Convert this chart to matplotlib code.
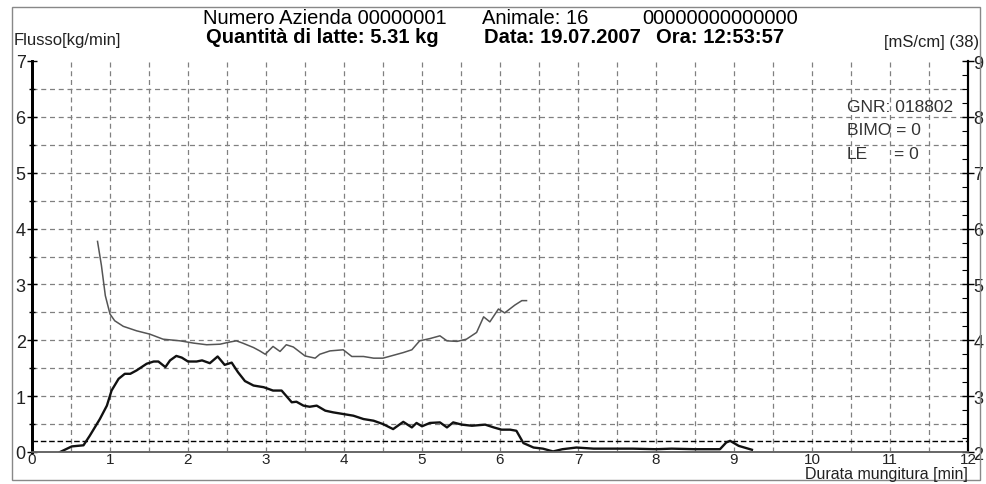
import matplotlib
matplotlib.use("Agg")
import matplotlib.pyplot as plt
from matplotlib.patches import Rectangle
import numpy as np

plt.rcParams['font.family'] = ['Liberation Sans', 'DejaVu Sans']

# Flow [kg/min] vs time [min]
flow_t = [0.36, 0.51, 0.66, 0.74, 0.87, 0.96, 1.02, 1.11, 1.19, 1.26, 1.34, 1.47, 1.56, 1.62,
          1.71, 1.77, 1.85, 1.92, 2.0, 2.11, 2.18, 2.28, 2.38, 2.47, 2.56, 2.64, 2.73, 2.84,
          2.97, 3.09, 3.2, 3.33, 3.39, 3.48, 3.56, 3.65, 3.76, 3.86, 3.99, 4.12, 4.25, 4.38,
          4.5, 4.63, 4.76, 4.87, 4.93, 5.0, 5.1, 5.23, 5.32, 5.4, 5.51, 5.64, 5.81, 5.92,
          6.02, 6.13, 6.21, 6.3, 6.43, 6.55, 6.68, 6.8, 6.98, 7.2, 7.45, 7.7, 8.0, 8.2, 8.5,
          8.82, 8.9, 8.95, 9.06, 9.23]
flow_v = [0.0, 0.1, 0.12, 0.29, 0.59, 0.83, 1.1, 1.31, 1.4, 1.40, 1.46, 1.58, 1.62, 1.62,
          1.52, 1.64, 1.72, 1.69, 1.62, 1.62, 1.64, 1.59, 1.71, 1.56, 1.6, 1.43, 1.27, 1.19,
          1.16, 1.1, 1.1, 0.89, 0.9, 0.83, 0.81, 0.83, 0.74, 0.71, 0.68, 0.65, 0.59, 0.56,
          0.5, 0.41, 0.54, 0.44, 0.52, 0.46, 0.52, 0.53, 0.44, 0.53, 0.49, 0.47, 0.49, 0.44,
          0.4, 0.4, 0.38, 0.16, 0.08, 0.06, 0.01, 0.05, 0.08, 0.06, 0.06, 0.06, 0.05, 0.06, 0.05,
          0.05, 0.17, 0.2, 0.11, 0.04]

# Conductivity [mS/cm] vs time [min]
cond_t = [0.84, 0.89, 0.94, 1.0, 1.06, 1.17, 1.34, 1.51, 1.68, 1.9, 2.07, 2.24, 2.41, 2.54,
          2.62, 2.7, 2.84, 2.92, 2.99, 3.09, 3.18, 3.26, 3.35, 3.5, 3.63, 3.69, 3.82, 3.99,
          4.1, 4.25, 4.38, 4.5, 4.63, 4.76, 4.87, 4.97, 5.1, 5.23, 5.32, 5.45, 5.57, 5.7,
          5.79, 5.87, 5.98, 6.06, 6.19, 6.28, 6.34]
cond_v = [5.77, 5.34, 4.80, 4.47, 4.35, 4.25, 4.17, 4.11, 4.02, 3.99, 3.95, 3.92, 3.93, 3.97,
          3.99, 3.95, 3.87, 3.81, 3.75, 3.89, 3.80, 3.92, 3.88, 3.72, 3.68, 3.75, 3.81, 3.83,
          3.71, 3.71, 3.68, 3.68, 3.73, 3.78, 3.83, 3.99, 4.03, 4.08, 3.99, 3.98, 4.02, 4.14,
          4.42, 4.33, 4.56, 4.49, 4.63, 4.71, 4.71]

x_ticks = list(range(0, 13))
y_ticks = list(range(0, 8))
y2_ticks = list(range(2, 10))
threshold = 0.2

fig = plt.figure(figsize=(9.87, 4.85), dpi=100)
ax = fig.add_axes([32/987, 1-453/485, 936/987, 391/485])
ax2 = ax.twinx()

ax.set_xlim(0, 12)
ax.set_ylim(0, 7)
ax2.set_ylim(2, 9)

# grid every 0.5
for gx in np.arange(0.5, 12, 0.5):
    ax.axvline(gx, color='#808080', lw=0.9, ls=(0, (4, 3)), zorder=1)
for gy in np.arange(0.5, 7, 0.5):
    ax.axhline(gy, color='#808080', lw=0.9, ls=(0, (4, 3)), zorder=1)
ax.axhline(threshold, color='black', lw=1.0, ls=(0, (4, 2)), zorder=2)

ax.plot(flow_t, flow_v, color='#111111', lw=1.7, zorder=4)
ax2.plot(cond_t, cond_v, color='#555555', lw=1.1, zorder=3)

ax.set_xticks(x_ticks)
ax.set_xticklabels([str(v) for v in x_ticks], fontsize=11, color='#222222')
ax.tick_params(axis='x', length=0, pad=0)
ax.set_yticks(y_ticks)
ax.set_yticks(np.arange(0, 7.01, 0.5), minor=True)
ax.set_yticklabels([str(v) for v in y_ticks], fontsize=13, color='#222222')
ax.tick_params(axis='y', which='major', direction='inout', length=7, width=1, pad=1)
ax.tick_params(axis='y', which='minor', direction='inout', length=5, width=1)

ax2.set_yticks(y2_ticks)
ax2.set_yticks(np.arange(2, 9.01, 0.25), minor=True)
ax2.set_yticklabels([str(v) for v in y2_ticks], fontsize=13, color='#222222')
ax2.tick_params(axis='y', which='major', direction='inout', length=8, width=1, pad=0)
ax2.tick_params(axis='y', which='minor', direction='in', length=4, width=0.8)

for a in (ax, ax2):
    a.spines['top'].set_visible(False)
    a.spines['left'].set_linewidth(2.0)
    a.spines['right'].set_linewidth(1.5)
    a.spines['bottom'].set_color('#666666')
    a.spines['bottom'].set_linewidth(1.2)

# annotation block
ann_kw = dict(fontsize=12.5, color='#333333', ha='left', va='center')
ax.text(10.45, 6.18, 'GNR: 018802', **ann_kw)
ax.text(10.45, 5.78, 'BIMO = 0', **ann_kw)
ax.text(10.45, 5.35, 'LE', **ann_kw)
ax.text(11.05, 5.35, '= 0', **ann_kw)

# header
hs = 14.5
fig.text(203/987, 1-19/485, 'Numero Azienda 00000001', fontsize=hs, ha='left', va='center')
fig.text(482/987, 1-19/485, 'Animale: 16', fontsize=hs, ha='left', va='center')
fig.text(642/987, 1-19/485, '00000000000000', fontsize=hs, ha='left', va='center')
fig.text(206/987, 1-38/485, 'Quantità di latte: 5.31 kg', fontsize=hs, fontweight='bold', ha='left', va='center')
fig.text(484/987, 1-38/485, 'Data: 19.07.2007', fontsize=hs, fontweight='bold', ha='left', va='center')
fig.text(656/987, 1-38/485, 'Ora: 12:53:57', fontsize=hs, fontweight='bold', ha='left', va='center')
fig.text(14/987, 1-40/485, 'Flusso[kg/min]', fontsize=12, ha='left', va='center', color='#222222')
fig.text(979/987, 1-43/485, '[mS/cm] (38)', fontsize=12, ha='right', va='center', color='#222222')
fig.text(968/987, 1-475/485, 'Durata mungitura [min]', fontsize=11.5, ha='right', va='center', color='#222222')

# outer frame
fig.patches.append(Rectangle((12/987, 1-481/485), 968/987, 473/485, transform=fig.transFigure,
                             fill=False, edgecolor='#888888', lw=1.0))

fig.savefig('out.png', dpi=100)
